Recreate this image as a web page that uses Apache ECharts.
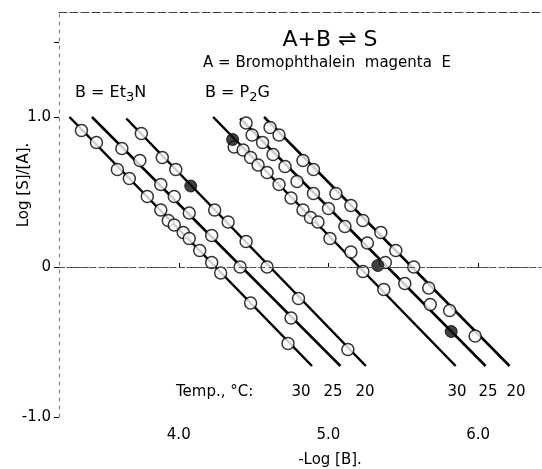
<!DOCTYPE html>
<html>
<head>
<meta charset="utf-8">
<script src="https://cdn.jsdelivr.net/npm/echarts@6.0.0/dist/echarts.min.js"></script>
<style>
  html, body { margin: 0; padding: 0; background: #fff; }
  #main { width: 542px; height: 469px; }
</style>
</head>
<body>
<div id="main"></div>
<script>
// -Log[B] vs Log [S]/[A], B = Et3N (left group) and B = P2G (right group)
var et3n30 = [[3.35,0.91],[3.45,0.83],[3.59,0.65],[3.67,0.59],[3.79,0.47],[3.88,0.38],[3.93,0.31],[3.97,0.28],
  [4.03,0.23],[4.07,0.19],[4.14,0.11],[4.22,0.03],[4.28,-0.04],[4.48,-0.24],[4.73,-0.51]];
var et3n25 = [[3.62,0.79],[3.74,0.71],[3.88,0.55],[3.97,0.47],[4.07,0.36],[4.22,0.21],[4.41,0.0],[4.75,-0.34]];
var et3n20 = [[3.75,0.89],[3.89,0.73],[3.98,0.65],[4.24,0.38],[4.33,0.30],[4.45,0.17],[4.59,0.0],
  [4.80,-0.21],[5.13,-0.55]];
var p2g30 = [[4.37,0.80],[4.43,0.78],[4.48,0.73],[4.53,0.68],[4.59,0.63],[4.67,0.55],[4.75,0.46],[4.83,0.38],
  [4.88,0.33],[4.93,0.30],[5.01,0.19],[5.15,0.10],[5.23,-0.03],[5.37,-0.15]];
var p2g25 = [[4.45,0.96],[4.49,0.88],[4.56,0.83],[4.63,0.75],[4.71,0.67],[4.79,0.57],[4.90,0.49],[5.00,0.39],
  [5.11,0.27],[5.26,0.16],[5.38,0.03],[5.51,-0.11],[5.68,-0.25]];
var p2g20 = [[4.61,0.93],[4.67,0.88],[4.83,0.71],[4.90,0.65],[5.05,0.49],[5.15,0.41],[5.23,0.31],[5.35,0.23],
  [5.45,0.11],[5.57,0.0],[5.67,-0.14],[5.81,-0.29],[5.98,-0.46]];
// half dark circles in the print
var darkPts = [[4.08,0.54],[4.36,0.85],[5.33,0.01],[5.82,-0.43]];

// fitted lines (start, end)
var fitEt3n30 = [[3.27,1.0],[4.89,-0.66]];
var fitEt3n25 = [[3.42,1.0],[5.08,-0.66]];
var fitEt3n20 = [[3.65,0.99],[5.25,-0.66]];
var fitP2g30 = [[4.23,1.0],[5.85,-0.66]];
var fitP2g25 = [[4.41,0.99],[6.05,-0.66]];
var fitP2g20 = [[4.57,1.0],[6.21,-0.66]];

var xTicks = [4.0, 5.0, 6.0];
var yTicks = [-1.0, 0, 1.0];
var temps = ['30', '25', '20'];

var FONT = '"DejaVu Sans", sans-serif';
var chart = echarts.init(document.getElementById('main'));

function lineSeries(d) {
  return {
    type: 'line', data: d, symbol: 'none', silent: true, z: 2,
    lineStyle: { color: '#000', width: 2.5 }
  };
}
function dotSeries(d) {
  return {
    type: 'scatter', data: d, symbol: 'circle', symbolSize: 12, z: 3, silent: true,
    itemStyle: { color: '#fff', borderColor: '#000', borderWidth: 1.5 }
  };
}

var series = [fitEt3n30, fitEt3n25, fitEt3n20, fitP2g30, fitP2g25, fitP2g20].map(lineSeries);
[et3n30, et3n25, et3n20, p2g30, p2g25, p2g20].forEach(function (d) { series.push(dotSeries(d)); });
series.push({
  type: 'scatter', data: darkPts, symbolSize: 12, z: 4, silent: true,
  itemStyle: { color: '#111', borderColor: '#000', borderWidth: 1 }
});
// zero line
series[0].markLine = {
  silent: true, symbol: 'none', label: { show: false },
  lineStyle: { color: '#555', type: [6, 4], width: 1 },
  data: [{ yAxis: 0 }]
};

var tempGraphics = [];
var tempX = [301, 333, 365, 457, 488, 516];
tempX.forEach(function (x, i) {
  tempGraphics.push({
    type: 'text', x: x, y: 392,
    style: { text: temps[i % 3], font: '15px ' + FONT, fill: '#000', textAlign: 'center', textVerticalAlign: 'middle' }
  });
});

var option = {
  backgroundColor: '#fff',
  animation: false,
  grid: { left: 59, right: 1, top: 12, bottom: 52 },
  xAxis: [{
    type: 'value', min: 3.2, max: 6.42,
    axisLine: { lineStyle: { color: '#444', type: [5, 3], width: 1 } },
    axisTick: { inside: true, length: 4, customValues: xTicks, lineStyle: { color: '#000' } },
    axisLabel: {
      customValues: xTicks, margin: 11, color: '#000', fontSize: 15, fontFamily: FONT,
      formatter: function (v) { return v.toFixed(1); }
    },
    splitLine: { show: false }
  }, {
    type: 'value', position: 'top', min: 3.2, max: 6.42,
    axisLine: { show: true, lineStyle: { color: '#444', type: [8, 3], width: 1 } },
    axisTick: { show: false }, axisLabel: { show: false }, splitLine: { show: false }
  }],
  yAxis: {
    type: 'value', min: -1.0, max: 1.7,
    axisLine: { show: true, lineStyle: { color: '#777', type: [3, 5], width: 1 } },
    axisTick: { show: true, length: 5, customValues: [-1.0, 0, 1.0, 1.5], lineStyle: { color: '#000' } },
    axisLabel: {
      customValues: yTicks, margin: 8, color: '#000', fontSize: 15, fontFamily: FONT,
      formatter: function (v) { return v === 0 ? '0' : v.toFixed(1); }
    },
    splitLine: { show: false }
  },
  series: series,
  graphic: [
    { type: 'text', x: 330, y: 40,
      style: { text: 'A+B \u21CC S', font: '22px ' + FONT, fill: '#000', textAlign: 'center', textVerticalAlign: 'middle' } },
    { type: 'text', x: 327, y: 63,
      style: { text: 'A = Bromophthalein  magenta  E', font: '15px ' + FONT, fill: '#000', textAlign: 'center', textVerticalAlign: 'middle' } },
    { type: 'text', x: 75, y: 93,
      style: { text: 'B = Et{s|3}N', font: '16px ' + FONT, fill: '#000', textVerticalAlign: 'middle',
        rich: { s: { fontSize: 13, fontFamily: 'DejaVu Sans', padding: [10, 0, 0, 0] } } } },
    { type: 'text', x: 205, y: 93,
      style: { text: 'B = P{s|2}G', font: '16px ' + FONT, fill: '#000', textVerticalAlign: 'middle',
        rich: { s: { fontSize: 13, fontFamily: 'DejaVu Sans', padding: [10, 0, 0, 0] } } } },
    { type: 'text', x: 176, y: 392,
      style: { text: 'Temp., \u00B0C:', font: '15px ' + FONT, fill: '#000', textVerticalAlign: 'middle' } },
    { type: 'text', x: 24, y: 185, rotation: Math.PI / 2,
      style: { text: 'Log [S]/[A].', font: '15px ' + FONT, fill: '#000', textAlign: 'center', textVerticalAlign: 'middle' } },
    { type: 'text', x: 330, y: 460,
      style: { text: '-Log [B].', font: '15px ' + FONT, fill: '#000', textAlign: 'center', textVerticalAlign: 'middle' } }
  ].concat(tempGraphics)
};

chart.setOption(option);
</script>
</body>
</html>
